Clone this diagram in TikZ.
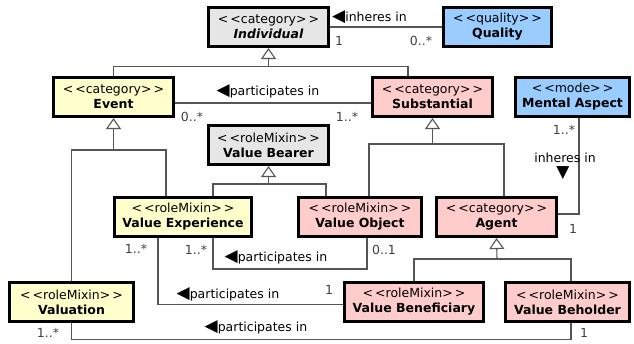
\documentclass[tikz,border=0pt]{standalone}
\usepackage{fontspec}
\setmainfont{DejaVu Sans}
\usetikzlibrary{arrows.meta, positioning}

\definecolor{greybox}{HTML}{E6E6E6}
\definecolor{yellowbox}{HTML}{FFFFCC}
\definecolor{pinkbox}{HTML}{FFCCCC}
\definecolor{bluebox}{HTML}{99CCFF}
\definecolor{linegrey}{HTML}{555555}
\newcommand{\stereo}[1]{<\,<#1>\,>}
\newcommand{\readleft}{{\fontsize{17}{15}\selectfont ◀}}

\begin{document}
\begin{tikzpicture}[x=1pt,y=-1pt,font=\fontsize{12.5}{15}\selectfont,
  class node/.style={draw=black,line width=2.6pt,align=center,minimum height=39.5pt,inner sep=1pt},
  link/.style={draw=linegrey,line width=1.1pt},
  gen/.style={link,-{Triangle[open,length=11pt,width=15pt]}},
  lbl/.style={inner sep=1pt,text=black},
  mult/.style={inner sep=1pt,text=black!75}]

        \useasboundingbox (0,0) rectangle (634,344);

        % classes
        \node[class node, fill=greybox,   minimum width=120.5pt] (ind)  at (268.5,27)  {\stereo{category}\\\textbf{\textit{Individual}}};
        \node[class node, fill=bluebox,   minimum width=108.5pt] (qual) at (497.5,27)  {\stereo{quality}\\\textbf{Quality}};
        \node[class node, fill=yellowbox, minimum width=120.5pt] (ev)   at (113.5,97)  {\stereo{category}\\\textbf{Event}};
        \node[class node, fill=pinkbox,   minimum width=120.5pt] (sub)  at (432.5,97)  {\stereo{category}\\\textbf{Substantial}};
        \node[class node, fill=bluebox,   minimum width=114.5pt] (ma)   at (572.5,97)  {\stereo{mode}\\\textbf{Mental Aspect}};
        \node[class node, fill=greybox,   minimum width=120.5pt] (vbear) at (268.5,145) {\stereo{roleMixin}\\\textbf{Value Bearer}};
        \node[class node, fill=yellowbox, minimum width=137.5pt] (vexp) at (183,217)   {\stereo{roleMixin}\\\textbf{Value Experience}};
        \node[class node, fill=pinkbox,   minimum width=123.5pt] (vobj) at (360,217)   {\stereo{roleMixin}\\\textbf{Value Object}};
        \node[class node, fill=pinkbox,   minimum width=120.5pt] (ag)   at (496.5,217) {\stereo{category}\\\textbf{Agent}};
        \node[class node, fill=yellowbox, minimum width=124.5pt] (val)  at (71.5,302)  {\stereo{roleMixin}\\\textbf{Valuation}};
        \node[class node, fill=pinkbox,   minimum width=139.5pt] (vben) at (414,302)   {\stereo{roleMixin}\\\textbf{Value Beneficiary}};
        \node[class node, fill=pinkbox,   minimum width=124.5pt] (vbeh) at (567.5,302) {\stereo{roleMixin}\\\textbf{Value Beholder}};

        % generalization buses
        \coordinate (indbus) at (268.5,66.5);
        \coordinate (evbus) at (113.5,150);
        \coordinate (vbearbus) at (268.5,184);
        \coordinate (subbus) at (432.5,144);
        \coordinate (agbus) at (497,259);

        \draw[link] (ev.north) |- (indbus);
        \draw[link] ([xshift=-24.5pt]sub.north) |- (indbus);
        \draw[gen] (indbus) -- (ind.south);

        \draw[link] (val.north) |- (evbus);
        \draw[link] ([xshift=-17pt]vexp.north) |- (evbus);
        \draw[gen] (evbus) -- (ev.south);

        \draw[link] ([xshift=30pt]vexp.north) |- (vbearbus);
        \draw[link] ([xshift=-34pt]vobj.north) |- (vbearbus);
        \draw[gen] (vbearbus) -- (vbear.south);

        \draw[link] ([xshift=9pt]vobj.north) |- (subbus);
        \draw[link] ([xshift=7.5pt]ag.north) |- (subbus);
        \draw[gen] (subbus) -- (sub.south);

        \draw[link] (vben.north) |- (agbus);
        \draw[link] ([xshift=3.5pt]vbeh.north) |- (agbus);
        \draw[gen] (agbus) -- (ag.south);

        % associations
        \draw[link] (qual.west) -- (ind.east);
        \node[lbl, anchor=west] (l1) at (331,17) {\readleft inheres in};
        \node[mult] (m1a) at (339,41) {1};
        \node[mult] (m1b) at (421,41) {0..*};

        \draw[link] ([yshift=-6pt]ev.east) -- ([yshift=-6pt]sub.west);
        \node[lbl] (l2) at (268,91) {\readleft participates in};
        \node[mult] (m2a) at (192,117) {0..*};
        \node[mult] (m2b) at (347,117) {1..*};

        \draw[link] ([xshift=6.5pt]ma.south) |- ([yshift=3pt]ag.east);
        \node[mult] (m3a) at (564,130) {1..*};
        \node[lbl] (l3) at (565,158) {inheres in};
        \node[lbl] (l3t) at (563,173) {{\fontsize{17}{15}\selectfont ▼}};
        \node[mult] (m3b) at (573,229) {1};

        \draw[link] ([xshift=30pt]vexp.south) -- ++(0,31) -| ([xshift=7pt]vobj.south);
        \node[mult] (m4a) at (196,250) {1..*};
        \node[mult] (m4b) at (384,250) {0..1};
        \node[lbl] (l4) at (276,257) {\readleft participates in};

        \draw[link] ([xshift=-25pt]vexp.south) |- ([yshift=-2.5pt]vben.west);
        \node[mult] (m5a) at (136,249) {1..*};
        \node[lbl] (l5) at (228,294) {\readleft participates in};
        \node[mult] (m5b) at (329,290) {1};

        \draw[link] (val.south) -- ++(0,16) -| ([xshift=3.5pt]vbeh.south);
        \node[mult] (m6a) at (48,333) {1..*};
        \node[lbl] (l6) at (256,327) {\readleft participates in};
        \node[mult] (m6b) at (584,333) {1};

\end{tikzpicture}
\end{document}
